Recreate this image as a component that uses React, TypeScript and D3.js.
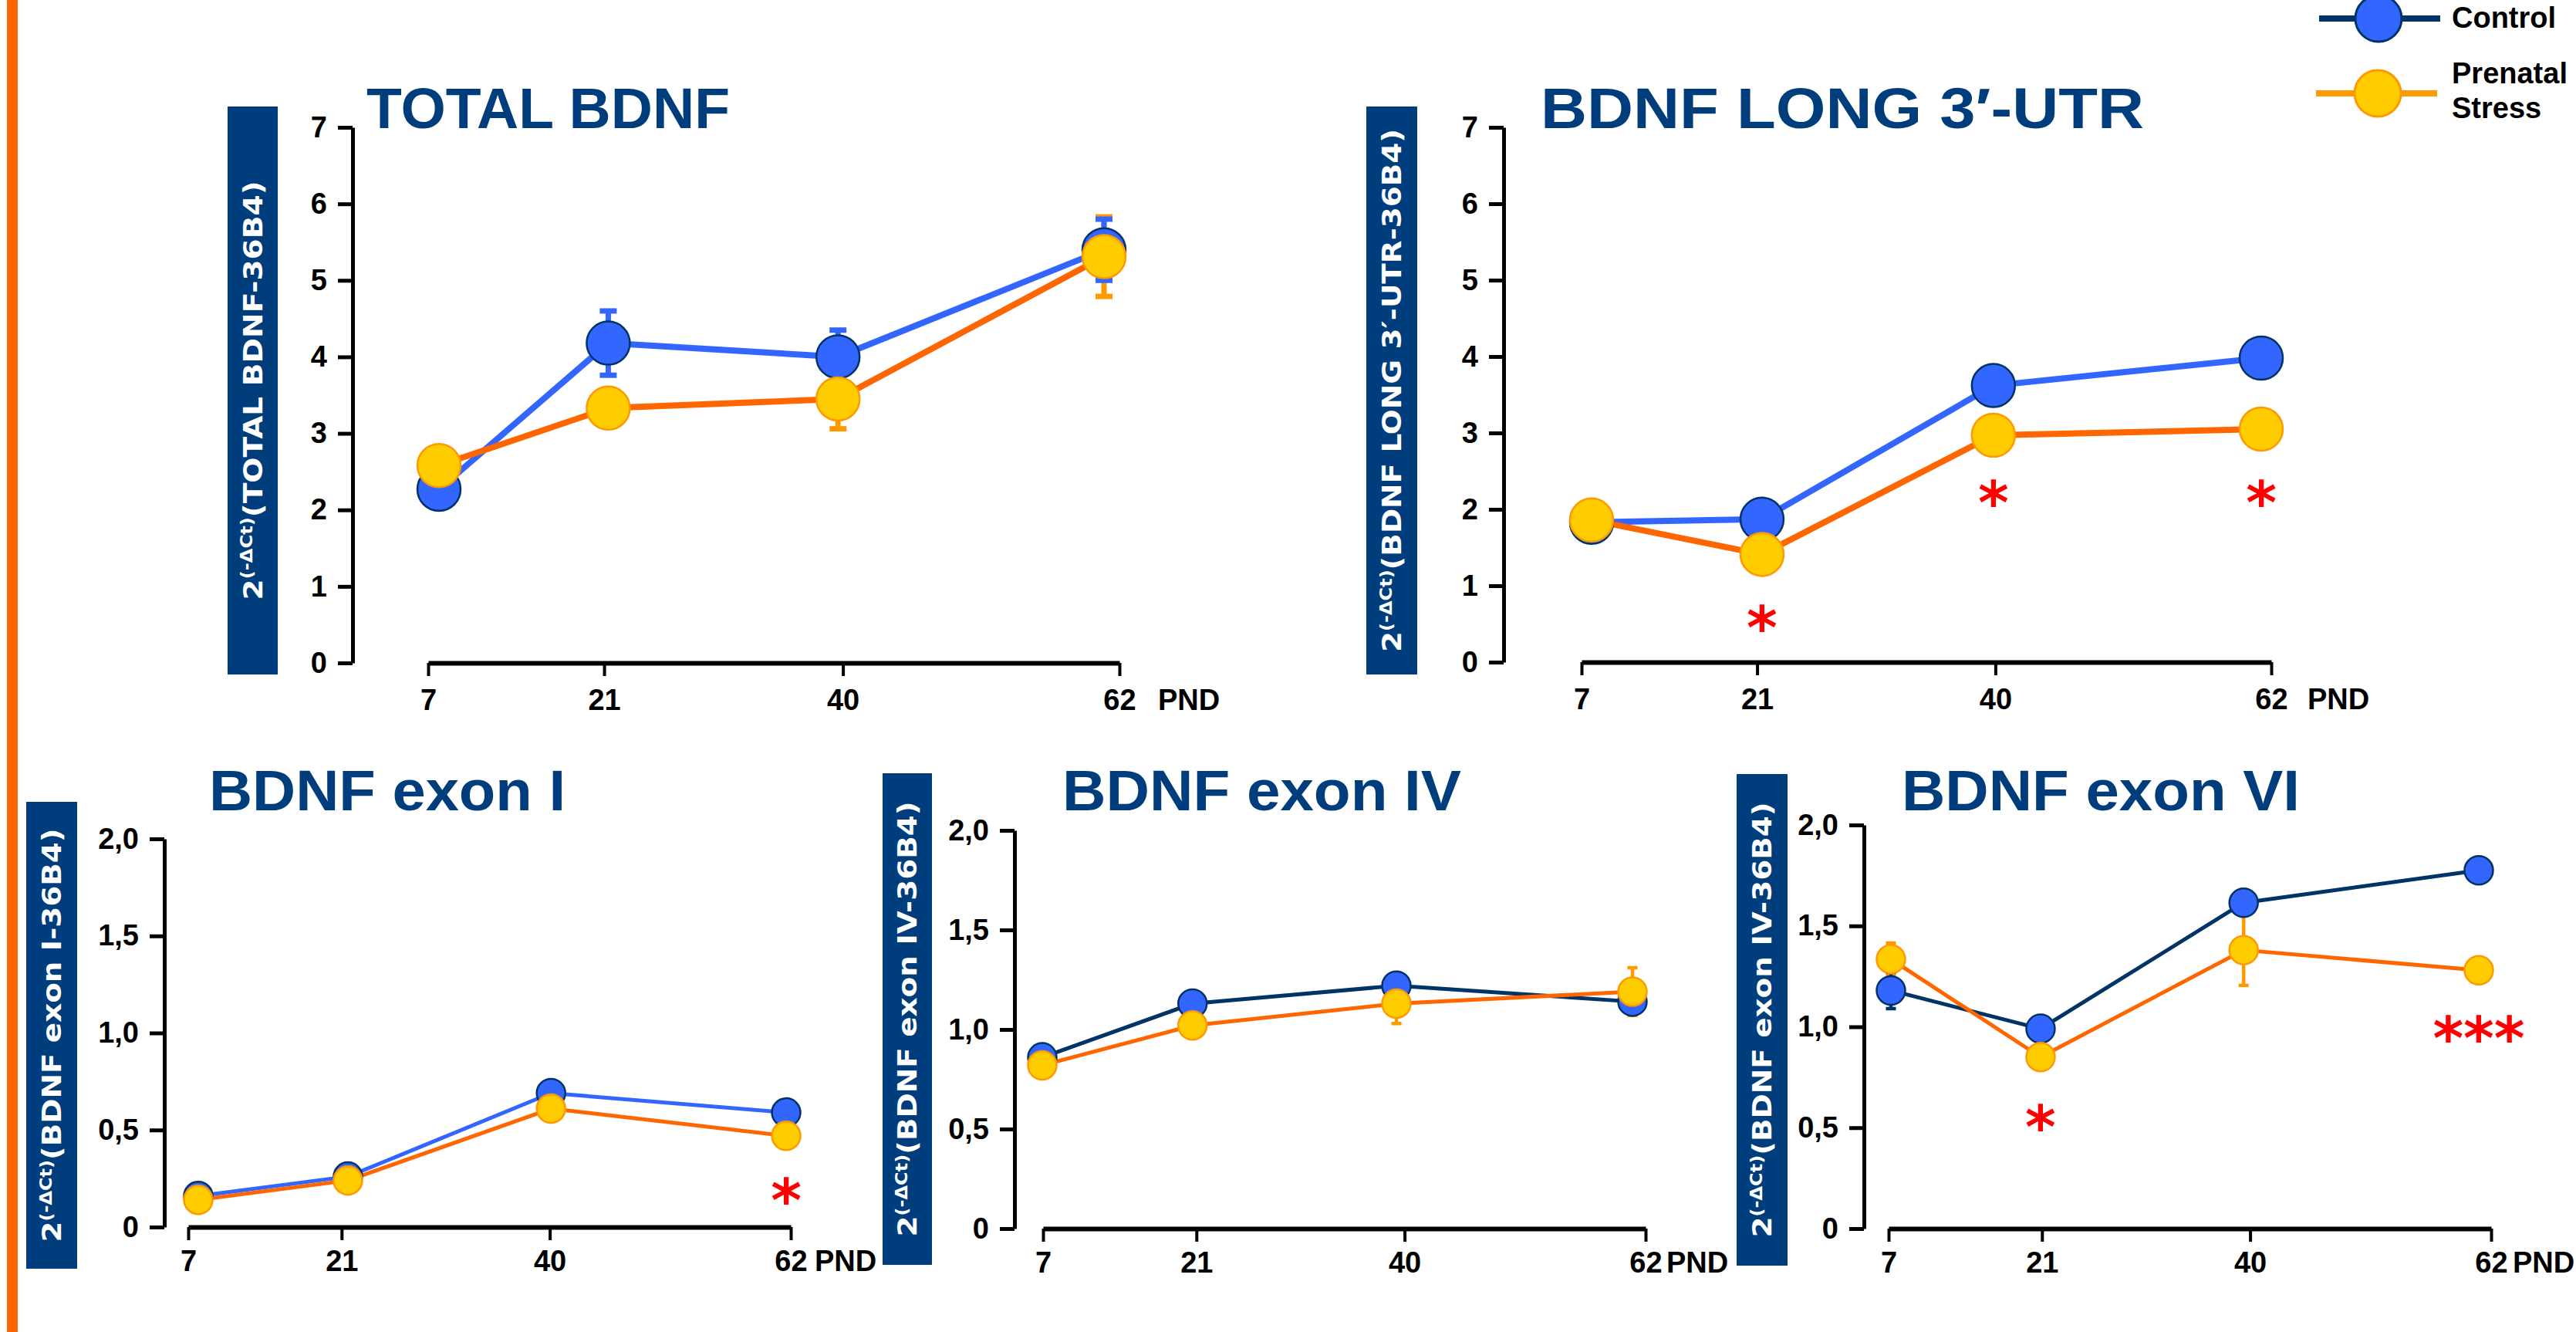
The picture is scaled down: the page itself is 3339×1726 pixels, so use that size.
import React, { useEffect, useRef } from 'react';
import * as d3 from 'd3';

// ---- data ----
const days = [7, 21, 40, 62];

const totalControl = [2.27, 4.18, 4.0, 5.4];
const totalStress = [2.58, 3.33, 3.45, 5.31];
const totalControlErr = [0, 0.42, 0.35, 0.4];
const totalStressErr = [0, 0, 0.39, 0.52];

const longControl = [1.83, 1.87, 3.62, 3.98];
const longStress = [1.86, 1.41, 2.97, 3.05];
const longControlErr = [0, 0, 0, 0];
const longStressErr = [0, 0, 0, 0];

const exon1Control = [0.16, 0.26, 0.69, 0.59];
const exon1Stress = [0.14, 0.24, 0.61, 0.47];
const exon1ControlErr = [0, 0, 0, 0];
const exon1StressErr = [0, 0, 0, 0];

const exon4Control = [0.86, 1.13, 1.22, 1.14];
const exon4Stress = [0.82, 1.02, 1.13, 1.19];
const exon4ControlErr = [0, 0, 0, 0];
const exon4StressErr = [0, 0, 0.1, 0.12];

const exon6Control = [1.18, 0.99, 1.615, 1.775];
const exon6Stress = [1.335, 0.85, 1.38, 1.28];
const exon6ControlErr = [0.09, 0, 0, 0];
const exon6StressErr = [0.08, 0, 0.175, 0];

// significance marks: [day, value at mark centre, text]
const longStars: [number, number, string][] = [[21, 0.6, '*'], [40, 2.24, '*'], [62, 2.24, '*']];
const exon1Stars: [number, number, string][] = [[62, 0.2, '*']];
const exon6Stars: [number, number, string][] = [[21, 0.56, '*'], [62, 1.0, '***']];

const topYTicks = [0, 1, 2, 3, 4, 5, 6, 7];
const topYLabels = ['0', '1', '2', '3', '4', '5', '6', '7'];
const bottomYTicks = [0, 0.5, 1, 1.5, 2];
const bottomYLabels = ['0', '0,5', '1,0', '1,5', '2,0'];

const titles = ['TOTAL BDNF', 'BDNF LONG 3′-UTR', 'BDNF exon I', 'BDNF exon IV', 'BDNF exon VI'];
const yLabels = ['TOTAL BDNF-36B4', 'BDNF LONG 3′-UTR-36B4', 'BDNF exon I-36B4', 'BDNF exon IV-36B4', 'BDNF exon IV-36B4'];
const legendLabels = [['Control'], ['Prenatal', 'Stress']];

// ---- colours ----
const NAVY = '#003d7c';
const DARK = '#003366';
const BLUE = '#3366ff';
const ORANGE = '#ff6600';
const LIGHT_ORANGE = '#ff9900';
const YELLOW = '#ffcc00';
const STAR = '#ff0000';

const SANS = '"Liberation Sans", Arial, sans-serif';
const WIDE = '"DejaVu Sans", Verdana, sans-serif';

// panel table built from the arrays above + layout
const panels = [
  {
    title: titles[0], label: yLabels[0], control: totalControl, stress: totalStress,
    cErr: totalControlErr, sErr: totalStressErr, stars: [] as [number, number, string][],
    ticks: topYTicks, tickLabels: topYLabels, yMax: 7, ctrlLine: BLUE, big: true,
    axisX: 457, y0: 859, yTop: 165, tick7: 555, tick62: 1451, pt7: 569, pt62: 1431,
    bar: [295, 360, 138, 874], titleX: 475, titleW: 471, titleY: 166, labelLen: 543, pnd: 50,
  },
  {
    title: titles[1], label: yLabels[1], control: longControl, stress: longStress,
    cErr: longControlErr, sErr: longStressErr, stars: longStars,
    ticks: topYTicks, tickLabels: topYLabels, yMax: 7, ctrlLine: BLUE, big: true,
    axisX: 1949, y0: 858, yTop: 165, tick7: 2050, tick62: 2944, pt7: 2063, pt62: 2931,
    bar: [1771, 1837, 138, 874], titleX: 1997, titleW: 782, titleY: 166, labelLen: 678, pnd: 47,
  },
  {
    title: titles[2], label: yLabels[2], control: exon1Control, stress: exon1Stress,
    cErr: exon1ControlErr, sErr: exon1StressErr, stars: exon1Stars,
    ticks: bottomYTicks, tickLabels: bottomYLabels, yMax: 2, ctrlLine: BLUE, big: false,
    axisX: 213, y0: 1590, yTop: 1087, tick7: 244, tick62: 1025, pt7: 257, pt62: 1019,
    bar: [34, 100, 1039, 1644], titleX: 271, titleW: 462, titleY: 1050, labelLen: 536, pnd: 31,
  },
  {
    title: titles[3], label: yLabels[3], control: exon4Control, stress: exon4Stress,
    cErr: exon4ControlErr, sErr: exon4StressErr, stars: [] as [number, number, string][],
    ticks: bottomYTicks, tickLabels: bottomYLabels, yMax: 2, ctrlLine: DARK, big: false,
    axisX: 1315, y0: 1592, yTop: 1076, tick7: 1352, tick62: 2133, pt7: 1351, pt62: 2116,
    bar: [1144, 1208, 1002, 1639], titleX: 1377, titleW: 517, titleY: 1050, labelLen: 564, pnd: 27,
  },
  {
    title: titles[4], label: yLabels[4], control: exon6Control, stress: exon6Stress,
    cErr: exon6ControlErr, sErr: exon6StressErr, stars: exon6Stars,
    ticks: bottomYTicks, tickLabels: bottomYLabels, yMax: 2, ctrlLine: DARK, big: false,
    axisX: 2416, y0: 1592, yTop: 1069, tick7: 2448, tick62: 3229, pt7: 2451, pt62: 3213,
    bar: [2251, 2317, 1003, 1640], titleX: 2465, titleW: 516, titleY: 1050, labelLen: 564, pnd: 28,
  },
];

const App = () => {
  const ref = useRef<SVGSVGElement>(null);
  const width = 3339, height = 1726;

  useEffect(() => {
    const svg = d3.select(ref.current);
    svg.selectAll('*').remove();

    svg.append('rect').attr('width', width).attr('height', height).attr('fill', '#fff');

    // orange rule on the left
    svg.append('rect').attr('x', 9).attr('y', 0).attr('width', 14).attr('height', height).attr('fill', ORANGE);

    panels.forEach(p => {
      const g = svg.append('g');
      const y = d3.scaleLinear().domain([0, p.yMax]).range([p.y0, p.yTop]);
      const xTick = d3.scaleLinear().domain([7, 62]).range([p.tick7, p.tick62]);
      const xPt = d3.scaleLinear().domain([7, 62]).range([p.pt7, p.pt62]);

      const lineW = p.big ? 8 : 5;
      const r = p.big ? 28 : 18.5;
      const errW = p.big ? 7 : 4.5;
      const capW = p.big ? 22 : 13;

      // y label bar
      const [bx0, bx1, by0, by1] = p.bar;
      g.append('rect')
        .attr('x', bx0).attr('y', by0)
        .attr('width', bx1 - bx0).attr('height', by1 - by0)
        .attr('fill', NAVY);
      const fs = 33;
      const lab = g.append('text')
        .attr('transform', `translate(${(bx0 + bx1) / 2 + fs * 0.37},${(by0 + by1) / 2}) rotate(-90)`)
        .attr('text-anchor', 'middle')
        .attr('font-family', WIDE).attr('font-weight', 'bold')
        .attr('font-size', fs).attr('fill', '#fff')
        .attr('textLength', p.labelLen).attr('lengthAdjust', 'spacingAndGlyphs');
      lab.append('tspan').text('2');
      lab.append('tspan').attr('font-size', fs * 0.62).attr('dy', -fs * 0.38).text('(-ΔCt)');
      lab.append('tspan').attr('dy', fs * 0.38).text(`(${p.label})`);

      // title
      g.append('text')
        .attr('x', p.titleX).attr('y', p.titleY)
        .attr('font-family', SANS).attr('font-weight', 'bold')
        .attr('font-size', 75).attr('fill', NAVY)
        .attr('textLength', p.titleW).attr('lengthAdjust', 'spacingAndGlyphs')
        .text(p.title);

      // y axis
      g.append('g')
        .attr('transform', `translate(${p.axisX},0)`)
        .call(d3.axisLeft(y).tickValues(p.ticks).tickSize(19).tickSizeOuter(0).tickPadding(14)
          .tickFormat((d, i) => p.tickLabels[i]))
        .call(a => {
          a.select('.domain').attr('stroke', '#000').attr('stroke-width', 5);
          a.selectAll('.tick line').attr('stroke', '#000').attr('stroke-width', 5);
          a.selectAll('.tick text')
            .attr('font-family', SANS).attr('font-weight', 'bold')
            .attr('font-size', 38).attr('fill', '#000');
        });

      // x axis (detached from y axis, same baseline)
      const xa = g.append('g')
        .attr('transform', `translate(0,${p.y0})`)
        .call(d3.axisBottom(xTick).tickValues(days).tickSize(17).tickSizeOuter(0)
          .tickPadding(p.big ? 17 : 13).tickFormat(d => String(d)))
        .call(a => {
          a.select('.domain').attr('stroke', '#000').attr('stroke-width', 6);
          a.selectAll('.tick line').attr('stroke', '#000').attr('stroke-width', 4);
          a.selectAll('.tick text')
            .attr('font-family', SANS).attr('font-weight', 'bold')
            .attr('font-size', 38).attr('fill', '#000');
        });
      xa.append('text')
        .attr('x', p.tick62 + p.pnd).attr('y', p.big ? 34 : 30).attr('dy', '0.71em')
        .attr('text-anchor', 'start')
        .attr('font-family', SANS).attr('font-weight', 'bold')
        .attr('font-size', 38).attr('fill', '#000')
        .text('PND');

      // series lines
      const line = d3.line<number>().x((d, i) => xPt(days[i])).y(d => y(d));
      g.append('path').attr('d', line(p.control)).attr('fill', 'none')
        .attr('stroke', p.ctrlLine).attr('stroke-width', lineW).attr('stroke-linejoin', 'round');
      g.append('path').attr('d', line(p.stress)).attr('fill', 'none')
        .attr('stroke', ORANGE).attr('stroke-width', lineW).attr('stroke-linejoin', 'round');

      const series = [
        { vals: p.stress, err: p.sErr, errColor: LIGHT_ORANGE, fill: YELLOW, stroke: LIGHT_ORANGE },
        { vals: p.control, err: p.cErr, errColor: p.ctrlLine, fill: BLUE, stroke: DARK },
      ];
      // error bars first, then symbols (control under stress)
      series.forEach(s => {
        const eg = g.append('g').attr('stroke', s.errColor);
        s.vals.forEach((v, i) => {
          const e = s.err[i];
          if (!e) return;
          const cx = xPt(days[i]);
          eg.append('line').attr('x1', cx).attr('x2', cx)
            .attr('y1', y(v - e)).attr('y2', y(v + e)).attr('stroke-width', errW);
          [v - e, v + e].forEach(end => {
            eg.append('line').attr('x1', cx - capW / 2).attr('x2', cx + capW / 2)
              .attr('y1', y(end)).attr('y2', y(end)).attr('stroke-width', errW);
          });
        });
      });
      [series[1], series[0]].forEach(s => {
        g.append('g').selectAll('circle')
          .data(s.vals)
          .join('circle')
          .attr('cx', (d, i) => xPt(days[i]))
          .attr('cy', d => y(d))
          .attr('r', r)
          .attr('fill', s.fill)
          .attr('stroke', s.stroke)
          .attr('stroke-width', 2.5);
      });

      // significance
      const sfs = 76;
      p.stars.forEach(([day, v, t]) => {
        g.append('text')
          .attr('x', xPt(day)).attr('y', y(v) + sfs * 0.55)
          .attr('text-anchor', 'middle')
          .attr('font-family', WIDE).attr('font-weight', 'bold')
          .attr('font-size', sfs).attr('fill', STAR)
          .text(t);
      });
    });

    // legend
    const leg = svg.append('g');
    const legendRows = [
      { cy: 24, line: DARK, fill: BLUE, stroke: DARK, x0: 3006, x1: 3163, cx: 3083, textY: [36] },
      { cy: 121, line: LIGHT_ORANGE, fill: YELLOW, stroke: LIGHT_ORANGE, x0: 3002, x1: 3159, cx: 3082, textY: [108, 153] },
    ];
    legendRows.forEach((row, k) => {
      leg.append('line').attr('x1', row.x0).attr('x2', row.x1)
        .attr('y1', row.cy).attr('y2', row.cy)
        .attr('stroke', row.line).attr('stroke-width', 8);
      leg.append('circle').attr('cx', row.cx).attr('cy', row.cy).attr('r', 30)
        .attr('fill', row.fill).attr('stroke', row.stroke).attr('stroke-width', 3);
      legendLabels[k].forEach((t, j) => {
        leg.append('text').attr('x', 3178).attr('y', row.textY[j])
          .attr('font-family', SANS).attr('font-weight', 'bold')
          .attr('font-size', 38).attr('fill', '#000')
          .text(t);
      });
    });
  }, []);

  return (
    <svg
      ref={ref}
      width={width}
      height={height}
      viewBox={`0 0 ${width} ${height}`}
      style={{ position: 'absolute', left: 0, top: 0, display: 'block' }}
    />
  );
};

export default App;
